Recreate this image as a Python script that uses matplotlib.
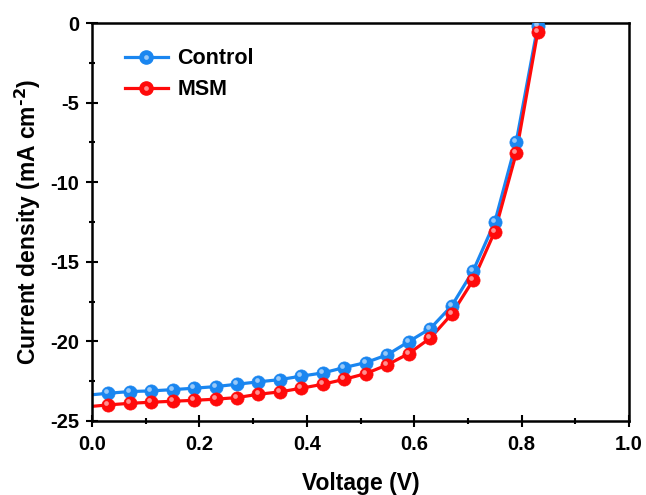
import matplotlib
matplotlib.use("Agg")
import matplotlib.pyplot as plt
import matplotlib.transforms as mtransforms
from matplotlib.legend_handler import HandlerTuple
from matplotlib.ticker import MultipleLocator

plt.rcParams['font.family'] = ['Liberation Sans', 'DejaVu Sans']
plt.rcParams['font.weight'] = 'bold'
plt.rcParams['mathtext.default'] = 'regular'
plt.rcParams['axes.unicode_minus'] = False

# voltage at marker positions (V)
voltage = [0.03, 0.07, 0.11, 0.15, 0.19, 0.23, 0.27, 0.31, 0.35, 0.39, 0.43,
           0.47, 0.51, 0.55, 0.59, 0.63, 0.67, 0.71, 0.75, 0.79, 0.83]
# current density (mA cm^-2)
control = [-23.26, -23.15, -23.11, -23.03, -22.94, -22.84, -22.69, -22.54, -22.40,
           -22.18, -21.98, -21.64, -21.33, -20.84, -20.01, -19.19, -17.76, -15.55,
           -12.51, -7.47, -0.19]
msm = [-23.99, -23.89, -23.82, -23.76, -23.70, -23.63, -23.53, -23.32, -23.17,
       -22.94, -22.69, -22.38, -22.02, -21.47, -20.76, -19.79, -18.28, -16.14,
       -13.10, -8.17, -0.57]
# the curves start at the axis
v0 = 0.0
control0 = -23.35
msm0 = -24.08

c_blue = '#1a86f0'
c_red = '#ff0a0a'

fig = plt.figure(figsize=(6.46, 4.95), dpi=100)
ax = fig.add_axes([0.1424, 0.1495, 0.8313, 0.8040])

hl = mtransforms.offset_copy(ax.transData, fig=fig, x=-1.4, y=1.4, units='points')

handles = []
for v_start, j_start, j, c, name in [(v0, control0, control, c_blue, 'Control'),
                                     (v0, msm0, msm, c_red, 'MSM')]:
    ax.plot([v_start] + voltage, [j_start] + j, color=c, lw=2.3, zorder=2)
    ax.plot(voltage, j, 'o', color=c, ms=9.5, mec=c, mew=0.5, zorder=3)
    ax.plot(voltage, j, 'o', color='white', alpha=0.55, ms=3.4, mew=0,
            transform=hl, zorder=4)
    ln, = ax.plot([], [], color=c, lw=2.3)
    mk, = ax.plot([], [], 'o', color=c, ms=9.5, mec=c)
    sh, = ax.plot([], [], 'o', color='white', alpha=0.55, ms=3.4, mew=0)
    handles.append(((ln, mk, sh), name))

ax.set_xlim(0, 1.0)
ax.set_ylim(-25, 0)
ax.xaxis.set_major_locator(MultipleLocator(0.2))
ax.xaxis.set_minor_locator(MultipleLocator(0.1))
ax.yaxis.set_major_locator(MultipleLocator(5))
ax.yaxis.set_minor_locator(MultipleLocator(2.5))
ax.tick_params(which='both', direction='inout', width=1.5, labelsize=14.5,
               top=False, right=False)
ax.tick_params(which='major', length=8)
ax.tick_params(which='minor', length=5)
ax.tick_params(axis='x', which='major', pad=6)
ax.tick_params(axis='y', which='major', pad=5)
for sp in ax.spines.values():
    sp.set_linewidth(1.8)

ax.set_xlabel('Voltage (V)', fontsize=16.5, fontweight='bold', labelpad=13)
ax.set_ylabel(r'Current density (mA cm$^{\text{-2}}$)', fontsize=16.5,
              fontweight='bold', labelpad=5)

leg = ax.legend([h for h, _ in handles], [n for _, n in handles],
                handler_map={tuple: HandlerTuple(ndivide=1, pad=0)},
                loc='upper left', bbox_to_anchor=(0.025, 0.985), frameon=False,
                fontsize=15.5, handlelength=2.0, handletextpad=0.45,
                labelspacing=0.45)

fig.savefig('out.png', dpi=100)
